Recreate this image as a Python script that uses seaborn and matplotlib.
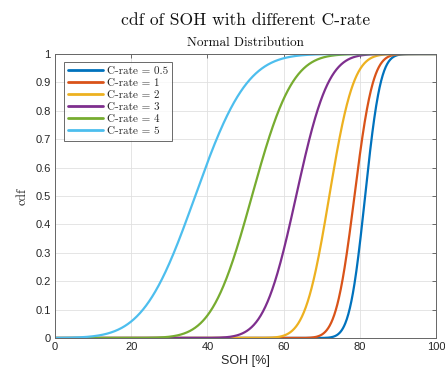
import numpy as np
import pandas as pd
import matplotlib
matplotlib.use("Agg")
import matplotlib.pyplot as plt
import seaborn as sns
from math import erf, sqrt

# ---- data (normal-distribution parameters per C-rate) ----
c_rates = ["0.5", "1", "2", "3", "4", "5"]
soh_mean = [81.4, 78.6, 72.0, 63.3, 51.7, 36.8]
soh_std = [3.2, 3.8, 5.0, 6.6, 8.3, 10.7]
soh_axis = np.linspace(0, 100, 1001)
x_ticks = [0, 20, 40, 60, 80, 100]
y_ticks = [0, 0.1, 0.2, 0.3, 0.4, 0.5, 0.6, 0.7, 0.8, 0.9, 1]
y_tick_labels = ["0", "0.1", "0.2", "0.3", "0.4", "0.5", "0.6", "0.7", "0.8", "0.9", "1"]
colors = ["#0072BD", "#D95319", "#EDB120", "#7E2F8E", "#77AC30", "#4DBEEE"]

rows = []
for rate, m, s in zip(c_rates, soh_mean, soh_std):
    label = f"C-rate = {rate}"
    for x in soh_axis:
        rows.append((label, x, 0.5 * (1 + erf((x - m) / (s * sqrt(2))))))
df = pd.DataFrame(rows, columns=["label", "SOH", "cdf"])
labels = [f"C-rate = {r}" for r in c_rates]

sns.set_theme(style="white")
plt.rcParams["font.family"] = ["Liberation Sans", "DejaVu Sans"]
plt.rcParams["axes.unicode_minus"] = False

fig = plt.figure(figsize=(4.45, 3.74), dpi=100)
ax = fig.add_axes([55 / 445, 1 - 338 / 374, 381 / 445, 284 / 374])

sns.lineplot(data=df, x="SOH", y="cdf", hue="label", hue_order=labels,
             palette=colors, linewidth=1.6, estimator=None, ax=ax)

ax.set_xlim(0, 100)
ax.set_ylim(0, 1)
ax.set_xticks(x_ticks)
ax.set_yticks(y_ticks)
ax.set_yticklabels(y_tick_labels)
ax.grid(True, color="#e0e0e0", linewidth=0.6)
ax.set_axisbelow(True)
ax.tick_params(direction="in", top=True, right=True, length=3, width=0.6,
               color="#555555", labelcolor="#262626", labelsize=8, pad=3)
for sp in ax.spines.values():
    sp.set_color("#666666")
    sp.set_linewidth(0.7)

ax.set_xlabel("SOH [%]", fontsize=9, color="#262626", labelpad=2)
ax.set_ylabel("cdf", fontsize=9.5, family="cmr10", color="#262626", labelpad=5)

fig.text(245.5 / 445, 1 - 20 / 374, "cdf of SOH with different C-rate",
         family="cmr10", fontsize=12.6, ha="center", va="center", color="#111111")
fig.text(245.5 / 445, 1 - 43 / 374, "Normal Distribution",
         family="cmr10", fontsize=9.5, ha="center", va="center", color="#111111")

leg = ax.legend(loc="upper left", bbox_to_anchor=(9 / 381, 276 / 284), borderaxespad=0,
                prop={"family": "cmr10", "size": 8}, frameon=True, fancybox=False,
                handlelength=3.15, handletextpad=0.3, labelspacing=0.2, borderpad=0.4)
leg.get_frame().set_edgecolor("#444444")
leg.get_frame().set_linewidth(0.7)
for line in leg.get_lines():
    line.set_linewidth(2.0)

fig.savefig("out.png", dpi=100)
